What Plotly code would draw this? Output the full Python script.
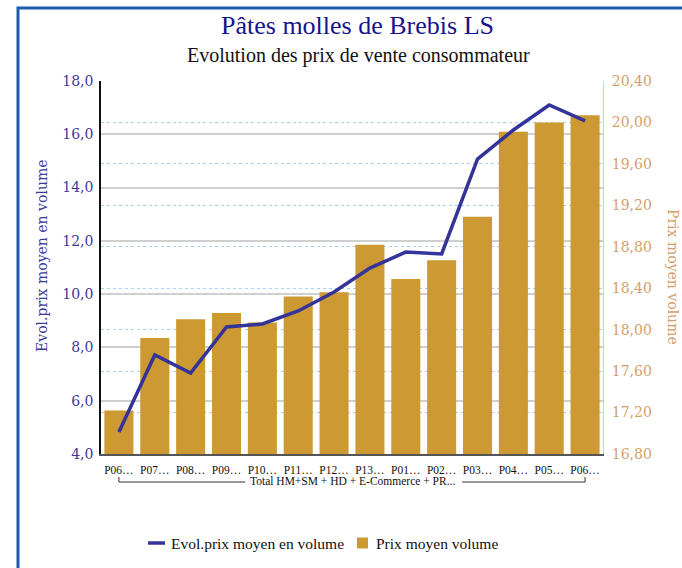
import plotly.graph_objects as go

# Periods (the last period label repeats, so the axis is indexed numerically)
periods = ["P06…", "P07…", "P08…", "P09…", "P10…", "P11…", "P12…",
           "P13…", "P01…", "P02…", "P03…", "P04…", "P05…", "P06…"]
group_label = "Total HM+SM + HD + E-Commerce + PR..."

# Average price per volume (bars, right axis)
prix_moyen_volume = [17.22, 17.92, 18.10, 18.16, 18.07, 18.32, 18.36,
                     18.82, 18.49, 18.67, 19.09, 19.91, 20.00, 20.07]

# Change of average price per volume (line, left axis)
evol_prix_moyen = [4.83, 7.72, 7.04, 8.77, 8.88, 9.37, 10.08,
                   10.98, 11.58, 11.51, 15.07, 16.16, 17.10, 16.50]

idx = list(range(len(periods)))

W, H = 682, 568
L, R, T, B = 101, 79, 81, 114
PW, PH = W - L - R, H - T - B


def px_x(x):
    return (x - L) / PW


def px_y(y):
    return (H - B - y) / PH


BAR = "#CC9933"
LINE = "#333399"
LEFT_TXT = "#3A3A99"
RIGHT_TXT = "#D4A06A"
SERIF_WIDE = "DejaVu Serif"
SERIF = "Liberation Serif"

LINE_NAME = "Evol.prix moyen en volume"
BAR_NAME = "Prix moyen volume"

fig = go.Figure()

fig.add_trace(go.Bar(
    x=idx, y=prix_moyen_volume, name=BAR_NAME,
    marker=dict(color=BAR, line=dict(width=0)),
    yaxis="y", showlegend=False,
))
fig.add_trace(go.Scatter(
    x=idx, y=evol_prix_moyen, name=LINE_NAME,
    mode="lines", line=dict(color=LINE, width=3.5),
    yaxis="y2", showlegend=False,
))

fig.update_layout(
    width=W, height=H,
    margin=dict(l=L, r=R, t=T, b=B, autoexpand=False),
    paper_bgcolor="white", plot_bgcolor="white",
    separators=", ",
    bargap=0.19,
    showlegend=False,
    xaxis=dict(
        range=[-0.5, len(periods) - 0.5],
        tickmode="array", tickvals=idx, ticktext=periods,
        tickfont=dict(family=SERIF, size=11.5, color="#111111"),
        showgrid=False, zeroline=False,
        showline=True, linecolor="#555555", linewidth=2,
        ticks="", ticklen=0, ticklabelstandoff=4,
    ),
    yaxis=dict(
        side="right", range=[16.8, 20.4], dtick=0.4, tick0=16.8,
        tickformat=".2f",
        tickfont=dict(family=SERIF_WIDE, size=14, color=RIGHT_TXT),
        showgrid=True, gridcolor="#A9D0F2", griddash="dot", gridwidth=1,
        zeroline=False,
        showline=True, linecolor="#B8D4EE", linewidth=1,
        ticks="", ticklabelstandoff=5,
    ),
    yaxis2=dict(
        side="left", overlaying="y", range=[4, 18], dtick=2, tick0=4,
        tickformat=".1f",
        tickfont=dict(family=SERIF_WIDE, size=14, color=LEFT_TXT),
        showgrid=True, gridcolor="#CFCFCF", gridwidth=1.5,
        zeroline=False,
        showline=True, linecolor="#111111", linewidth=1.5,
        ticks="", ticklabelstandoff=3,
    ),
)

annotations = [
    dict(text="Pâtes molles de Brebis LS", xref="paper", yref="paper",
         x=px_x(357), y=px_y(26), xanchor="center", yanchor="middle",
         showarrow=False, font=dict(family=SERIF, size=26, color="#14148C")),
    dict(text="Evolution des prix de vente consommateur", xref="paper", yref="paper",
         x=px_x(358), y=px_y(56), xanchor="center", yanchor="middle",
         showarrow=False, font=dict(family=SERIF, size=20, color="#111111")),
    dict(text=LINE_NAME, xref="paper", yref="paper",
         x=px_x(42), y=px_y(256), xanchor="center", yanchor="middle",
         textangle=-90, showarrow=False,
         font=dict(family=SERIF_WIDE, size=14, color=LEFT_TXT)),
    dict(text=BAR_NAME, xref="paper", yref="paper",
         x=px_x(673), y=px_y(277), xanchor="center", yanchor="middle",
         textangle=90, showarrow=False,
         font=dict(family=SERIF_WIDE, size=14, color=RIGHT_TXT)),
    dict(text=group_label, xref="x", yref="paper",
         x=(idx[0] + idx[-1]) / 2, y=px_y(480.5), xanchor="center", yanchor="middle",
         showarrow=False,
         font=dict(family=SERIF, size=11.5, color="#111111")),
    # legend labels
    dict(text=LINE_NAME, xref="paper", yref="paper",
         x=px_x(169), y=px_y(543), xanchor="left", yanchor="middle",
         showarrow=False, font=dict(family=SERIF, size=15.5, color="#111111")),
    dict(text=BAR_NAME, xref="paper", yref="paper",
         x=px_x(374), y=px_y(543), xanchor="left", yanchor="middle",
         showarrow=False, font=dict(family=SERIF, size=15.5, color="#111111")),
]
fig.update_layout(annotations=annotations)

# Group bracket under the period labels (split around the group label),
# legend keys and the outer frame
yb, yt = px_y(482), px_y(477)
gap_l, gap_r = 3.52, 9.57  # bracket gap around the group label, in category units
bracket = dict(color="#333333", width=1)
shapes = [
    dict(type="path", xref="x", yref="paper",
         path=f"M {idx[0]},{yt} L {idx[0]},{yb} L {gap_l},{yb}",
         line=bracket, layer="below"),
    dict(type="path", xref="x", yref="paper",
         path=f"M {gap_r},{yb} L {idx[-1]},{yb} L {idx[-1]},{yt}",
         line=bracket, layer="below"),
    dict(type="line", xref="paper", yref="paper",
         x0=px_x(148), x1=px_x(165), y0=px_y(543), y1=px_y(543),
         line=dict(color=LINE, width=3.5)),
    dict(type="rect", xref="paper", yref="paper",
         x0=px_x(357), x1=px_x(368), y0=px_y(537.5), y1=px_y(548.5),
         line=dict(width=0), fillcolor=BAR),
    dict(type="rect", xref="paper", yref="paper",
         x0=px_x(18), x1=px_x(W + 20), y0=px_y(8), y1=px_y(H + 20),
         line=dict(color="#1A5DAE", width=3), fillcolor="rgba(0,0,0,0)"),
]
fig.update_layout(shapes=shapes)

fig.write_html("out.html")
